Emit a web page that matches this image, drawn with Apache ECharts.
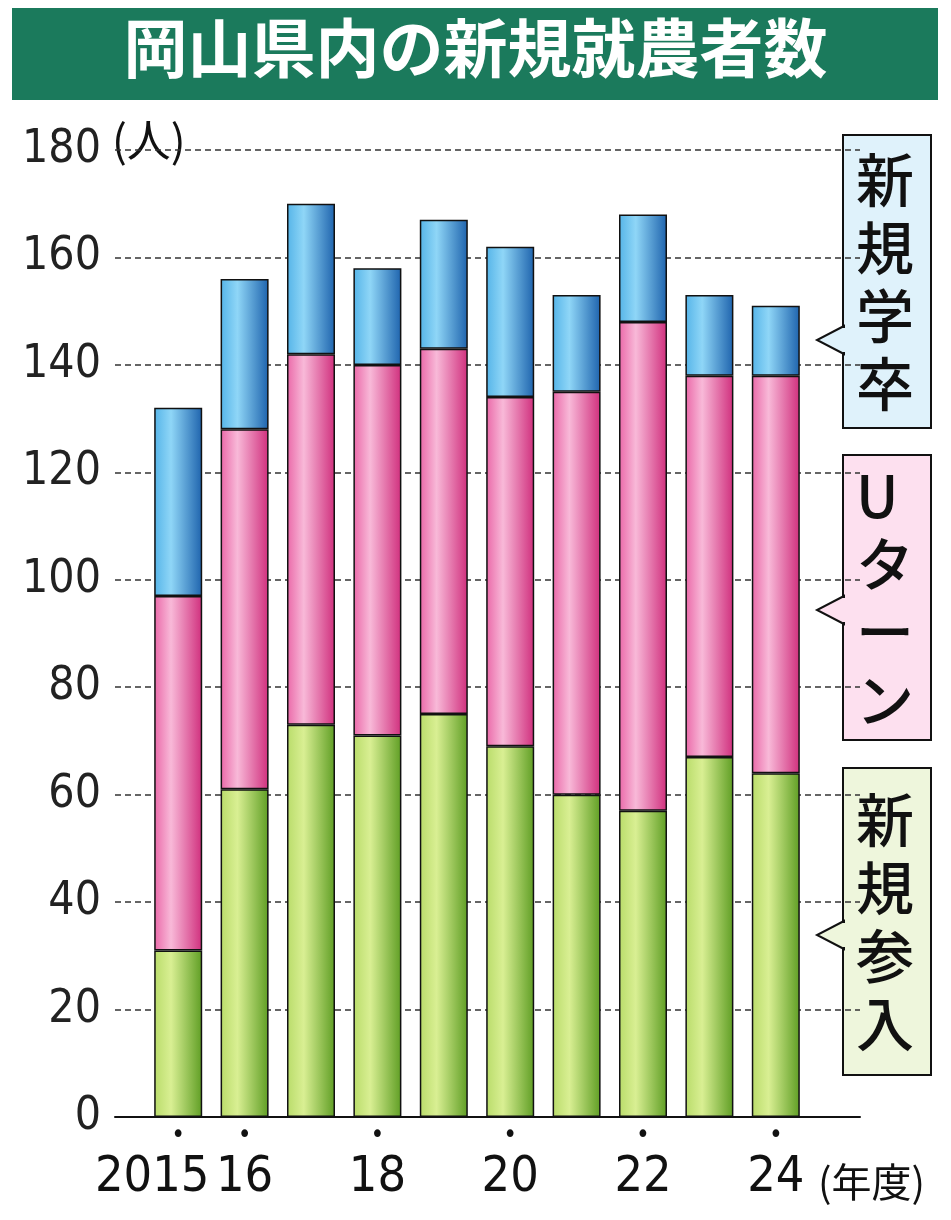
<!DOCTYPE html>
<html><head><meta charset="utf-8">
<script src="https://cdn.jsdelivr.net/npm/echarts@6/dist/echarts.min.js"></script>
<style>html,body{margin:0;padding:0;background:#fff}#c{width:951px;height:1220px}</style>
</head><body><div id="c"></div>
<script>
const years = ['2015','16','17','18','19','20','21','22','23','24'];
const shownLabels = ['2015','16','18','20','22','24'];
const shinki = [31,61,73,71,75,69,60,57,67,64];      // 新規参入
const uturn = [66,67,69,69,68,65,75,91,71,74];       // Uターン
const gakusotsu = [35,28,28,18,24,28,18,20,15,13];   // 新規学卒

const grad = (a,b,c) => new echarts.graphic.LinearGradient(0,0,1,0,[{offset:0,color:a},{offset:0.35,color:b},{offset:1,color:c}]);
const mk = (arr,name,color) => ({
  name, type:'bar', stack:'s', barWidth:48, xAxisIndex:1, yAxisIndex:1,
  data: arr,
  itemStyle:{color, borderColor:'#111', borderWidth:1.5}
});
const chart = echarts.init(document.getElementById('c'));
const F = '"DejaVu Sans Condensed","DejaVu Sans",sans-serif';
const J = '"Noto Sans CJK JP",sans-serif';
function vbox(x,y,w,h,bg,text,arrowY){
  return [
    {type:'rect',shape:{x,y,width:w,height:h},style:{fill:bg,stroke:'#111',lineWidth:2}},
    {type:'polygon',shape:{points:[[x+1,arrowY-14],[x-26,arrowY],[x+1,arrowY+14]]},style:{fill:bg,stroke:'#111',lineWidth:2}},
    {type:'rect',shape:{x:x,y:arrowY-12,width:4,height:24},style:{fill:bg}},
    {type:'text',left:x+w/2-31,top:y+(h-text.length*68)/2,style:{text:text.split('').join('\n'),font:'500 58px '+J,fill:'#111',lineHeight:68,align:'left'}}
  ];
}
chart.setOption({
  animation:false,
  grid:[{left:115,right:91,top:150,bottom:103},{left:145,right:142,top:150,bottom:103}],
  xAxis:[
    {type:'value',gridIndex:0,min:0,max:1,axisLabel:{show:false},splitLine:{show:false},axisTick:{show:false},
      axisLine:{show:true,onZero:false,lineStyle:{color:'#111',width:2}}},
    {type:'category',gridIndex:1,data:years,axisLine:{show:false},axisTick:{show:false},
      axisLabel:{interval:0,margin:2,color:'#111',fontFamily:F,
        formatter:v=>shownLabels.includes(v)?'{d|•}\n'+(v==='2015'?'{w|2015}':'{y|'+v+'}'):'',
        rich:{d:{fontSize:26,lineHeight:34,color:'#111'},
          y:{fontSize:50,lineHeight:50,fontFamily:F,color:'#111'},
          w:{fontSize:50,lineHeight:50,fontFamily:F,color:'#111',padding:[0,52,0,0]}}}}
  ],
  yAxis:[
    {type:'value',gridIndex:0,min:0,max:180,interval:20,axisLine:{show:false},axisTick:{show:false},
      axisLabel:{color:'#222',fontFamily:F,fontSize:46,margin:14},
      splitLine:{lineStyle:{color:'#333',type:[6,4],width:1.5}}},
    {type:'value',gridIndex:1,min:0,max:180,interval:20,show:false,splitLine:{show:false}}
  ],
  series:[
    mk(shinki,'新規参入',grad('#b9dc6a','#d9ef93','#5f9e24')),
    mk(uturn,'Uターン',grad('#ea68a8','#f8b9d8','#d02f7d')),
    mk(gakusotsu,'新規学卒',grad('#55b4e8','#8fd6f7','#1e63ad'))
  ],
  graphic:[
    {type:'rect',shape:{x:12,y:8,width:926,height:92},style:{fill:'#1b7a5c'}},
    {type:'text',left:'center',top:16,style:{text:'岡山県内の新規就農者数',font:'bold 64px '+J,fill:'#fff'}},
    {type:'rect',shape:{x:110,y:125,width:105,height:50},style:{fill:'#fff'}},
    {type:'text',left:112,top:118,style:{text:'(人)',font:'44px '+J,fill:'#111'}},
    {type:'text',left:818,top:1162,style:{text:'(年度)',font:'40px '+J,fill:'#111'}},
    ...vbox(843,135,88,293,'#dff2fb','新規学卒',340),
    ...vbox(843,455,88,285,'#fde0ef','Uターン',610),
    ...vbox(843,768,88,307,'#eef6dc','新規参入',935)
  ]
});
</script></body></html>
